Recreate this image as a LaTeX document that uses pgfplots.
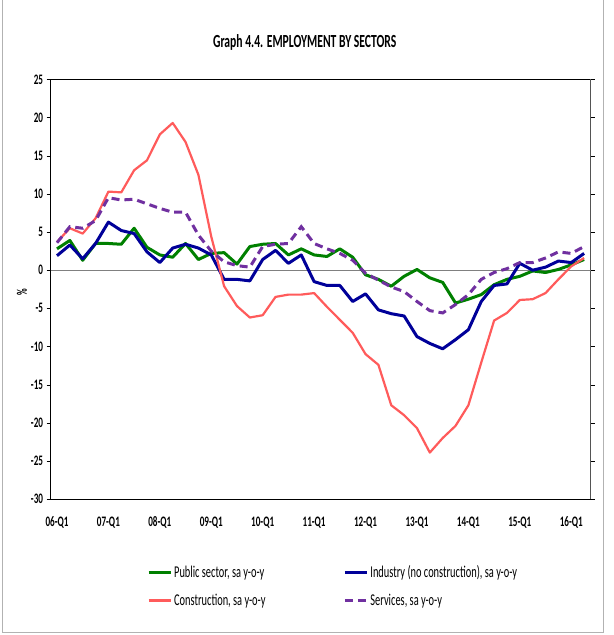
\documentclass[border=0pt]{standalone}
\usepackage{fontspec}
\setmainfont{Carlito}[FakeStretch=0.63]
\usepackage{pgfplots}
\pgfplotsset{compat=1.18}

\definecolor{pubgreen}{RGB}{0,128,0}
\definecolor{indblue}{RGB}{0,0,153}
\definecolor{conred}{RGB}{255,91,91}
\definecolor{servpurple}{RGB}{112,48,160}

\begin{document}
\begin{tikzpicture}[x=1pt,y=1pt]
\path (0,0) rectangle (614,635);
\draw[gray!60, line width=1pt] (3,635) -- (3,3) -- (604,3) -- (604,635);
\node[font=\fontsize{18.5}{20}\selectfont\bfseries] at (305,593) {Graph 4.4. EMPLOYMENT BY SECTORS};

\begin{axis}[
    at={(50.6pt,136pt)}, anchor=south west,
    scale only axis,
    width=540.4pt, height=420pt,
    xmin=-0.5, xmax=41.5,
    ymin=-30, ymax=25,
    xtick={0,4,...,40},
    xticklabels={06-Q1,07-Q1,08-Q1,09-Q1,10-Q1,11-Q1,12-Q1,13-Q1,14-Q1,15-Q1,16-Q1},
    ytick={-30,-25,...,25},
    /pgf/number format/assume math mode=true,
    tick label style={font=\fontsize{14.5}{16}\selectfont\bfseries},
    xticklabel style={yshift=-10pt},
    major x tick style={draw=none},
    tick align=outside,
    major tick length=4pt,
    y tick style={black},
    axis line style={black, line width=0.9pt},
    ylabel={\%},
    ylabel style={at={(axis description cs:-0.053,0.493)}, anchor=center,
        font=\fontsize{14.5}{16}\selectfont\bfseries},
    legend columns=2,
    legend cell align=left,
    legend image code/.code={\draw[#1] (0pt,0pt) -- (22pt,0pt);},
    legend style={at={(rel axis cs:0.173,-0.148)}, anchor=north west,
        draw=none, fill=none, row sep=11pt,
        font=\fontsize{16.5}{18}\selectfont,
        /tikz/every even column/.append style={column sep=76pt}},
]
\addplot[gray, line width=1pt, forget plot] coordinates {(-0.5,0) (41.5,0)};

% Public sector
\addplot[pubgreen, line width=3pt, line join=round] coordinates {
(0,2.8) (1,3.9) (2,1.3) (3,3.5) (4,3.5) (5,3.4) (6,5.5) (7,3.0) (8,2.0) (9,1.7)
(10,3.5) (11,1.4) (12,2.2) (13,2.3) (14,0.8) (15,3.1) (16,3.4) (17,3.5) (18,2.0) (19,2.8)
(20,2.0) (21,1.8) (22,2.8) (23,1.7) (24,-0.6) (25,-1.2) (26,-2.1) (27,-0.8) (28,0.1) (29,-1.0)
(30,-1.6) (31,-4.3) (32,-3.8) (33,-3.2) (34,-1.9) (35,-1.2) (36,-0.8) (37,-0.1) (38,-0.3) (39,0.1)
(40,0.7) (41,1.4)
};
\addlegendentry{Public sector, sa y-o-y}

% Industry
\addplot[indblue, line width=3pt, line join=round] coordinates {
(0,1.9) (1,3.3) (2,1.5) (3,3.5) (4,6.3) (5,5.2) (6,4.8) (7,2.4) (8,1.0) (9,2.9)
(10,3.4) (11,2.9) (12,2.0) (13,-1.2) (14,-1.2) (15,-1.4) (16,1.4) (17,2.6) (18,0.9) (19,2.0)
(20,-1.5) (21,-2.0) (22,-2.0) (23,-4.1) (24,-3.1) (25,-5.2) (26,-5.7) (27,-6.0) (28,-8.7) (29,-9.6)
(30,-10.3) (31,-9.1) (32,-7.8) (33,-4.1) (34,-2.0) (35,-1.8) (36,0.9) (37,0.0) (38,0.4) (39,1.2)
(40,1.0) (41,2.2)
};
\addlegendentry{Industry (no construction), sa y-o-y}

% Construction
\addplot[conred, line width=2.2pt, line join=round] coordinates {
(0,3.7) (1,5.5) (2,4.8) (3,6.8) (4,10.3) (5,10.2) (6,13.1) (7,14.4) (8,17.8) (9,19.3)
(10,16.8) (11,12.5) (12,4.4) (13,-2.1) (14,-4.7) (15,-6.2) (16,-5.9) (17,-3.5) (18,-3.2) (19,-3.2)
(20,-3.0) (21,-4.8) (22,-6.5) (23,-8.2) (24,-11.0) (25,-12.4) (26,-17.7) (27,-19.0) (28,-20.7) (29,-23.9)
(30,-22.0) (31,-20.4) (32,-17.7) (33,-12.1) (34,-6.6) (35,-5.6) (36,-3.9) (37,-3.8) (38,-3.0) (39,-1.2)
(40,0.5) (41,1.6)
};
\addlegendentry{Construction, sa y-o-y}

% Services
\addplot[servpurple, line width=3pt, dash pattern=on 8pt off 5pt] coordinates {
(0,3.6) (1,5.7) (2,5.5) (3,6.5) (4,9.5) (5,9.2) (6,9.3) (7,8.7) (8,8.1) (9,7.6)
(10,7.6) (11,4.6) (12,2.5) (13,1.1) (14,0.6) (15,0.4) (16,3.1) (17,3.4) (18,3.5) (19,5.7)
(20,3.5) (21,2.8) (22,2.2) (23,1.3) (24,-0.4) (25,-1.3) (26,-2.2) (27,-2.8) (28,-4.1) (29,-5.3)
(30,-5.6) (31,-4.5) (32,-3.2) (33,-1.2) (34,-0.3) (35,0.2) (36,1.0) (37,1.0) (38,1.6) (39,2.4)
(40,2.2) (41,3.1)
};
\addlegendentry{Services, sa y-o-y}

\draw[gray, line width=0.9pt] (rel axis cs:1,0) -- (rel axis cs:1,1);
\end{axis}
\end{tikzpicture}
\end{document}
